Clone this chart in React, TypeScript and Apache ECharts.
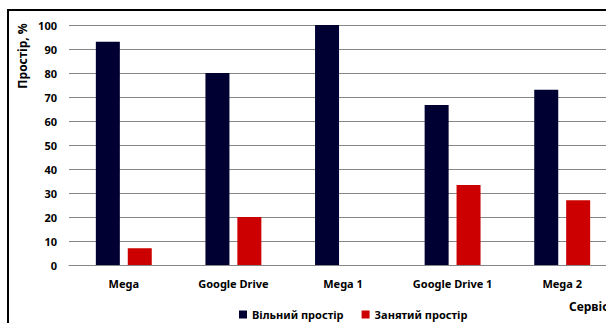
import React, { useEffect, useRef } from "react";
import * as echarts from "echarts";

const categories = ["Mega", "Google Drive", "Mega 1", "Google Drive 1", "Mega 2"];
const freeSpace = [93, 80, 100, 66.7, 73];
const usedSpace = [7, 20, 0, 33.3, 27];
const seriesNames = ["Вільний простір", "Занятий простір"];
const yTitle = "Простір, %";
const xTitle = "Сервіс";

const FONT = "'Noto Sans', 'Open Sans', sans-serif";

export default function App() {
  const ref = useRef<HTMLDivElement>(null);
  useEffect(() => {
    if (!ref.current) return;
    const chart = echarts.init(ref.current, null, { renderer: "svg" });
    chart.setOption({
      animation: false,
      backgroundColor: "#ffffff",
      textStyle: { fontFamily: FONT },
      grid: { left: 69, top: 25, right: 3, height: 240, containLabel: false },
      legend: {
        left: 234,
        top: 304,
        itemWidth: 8,
        itemHeight: 8,
        itemGap: 18,
        icon: "rect",
        textStyle: { fontFamily: FONT, fontSize: 11, fontWeight: "bold", color: "#000" },
        data: seriesNames,
      },
      xAxis: {
        type: "category",
        data: categories,
        axisLine: { show: true, lineStyle: { color: "#868686", width: 1 } },
        axisTick: { show: false },
        axisLabel: {
          margin: 13,
          fontFamily: FONT,
          fontSize: 11,
          fontWeight: "bold",
          color: "#000",
        },
      },
      yAxis: {
        type: "value",
        min: 0,
        max: 100,
        interval: 10,
        axisLine: { show: false },
        axisTick: { show: false },
        splitLine: { show: true, lineStyle: { color: "#868686", width: 1 } },
        axisLabel: {
          margin: 12,
          fontFamily: FONT,
          fontSize: 11,
          fontWeight: "bold",
          color: "#000",
        },
      },
      series: [
        {
          name: seriesNames[0],
          type: "bar",
          data: freeSpace,
          barWidth: 24,
          barGap: "33%",
          itemStyle: { color: "#000033" },
        },
        {
          name: seriesNames[1],
          type: "bar",
          data: usedSpace,
          barWidth: 24,
          itemStyle: { color: "#cc0000" },
        },
      ],
      graphic: [
        {
          type: "rect",
          shape: { x: 8, y: 10, width: 800, height: 500 },
          style: { fill: "none", stroke: "#000", lineWidth: 2 },
          silent: true,
        },
        {
          type: "text",
          x: 22,
          y: 56,
          rotation: Math.PI / 2,
          style: {
            text: yTitle,
            fontFamily: FONT,
            fontSize: 12,
            fontWeight: "bold",
            fill: "#000",
            textAlign: "center",
            textVerticalAlign: "middle",
          },
        },
        {
          type: "text",
          x: 569,
          y: 306,
          style: {
            text: xTitle,
            fontFamily: FONT,
            fontSize: 12,
            fontWeight: "bold",
            fill: "#000",
            textAlign: "left",
            textVerticalAlign: "middle",
          },
        },
      ],
    });
    return () => chart.dispose();
  }, []);
  return (
    <div style={{ position: "fixed", left: 0, top: 0, width: 606, height: 323, overflow: "hidden", background: "#fff" }}>
      <div ref={ref} style={{ position: "absolute", left: 0, top: 0, width: 620, height: 323 }} />
    </div>
  );
}
